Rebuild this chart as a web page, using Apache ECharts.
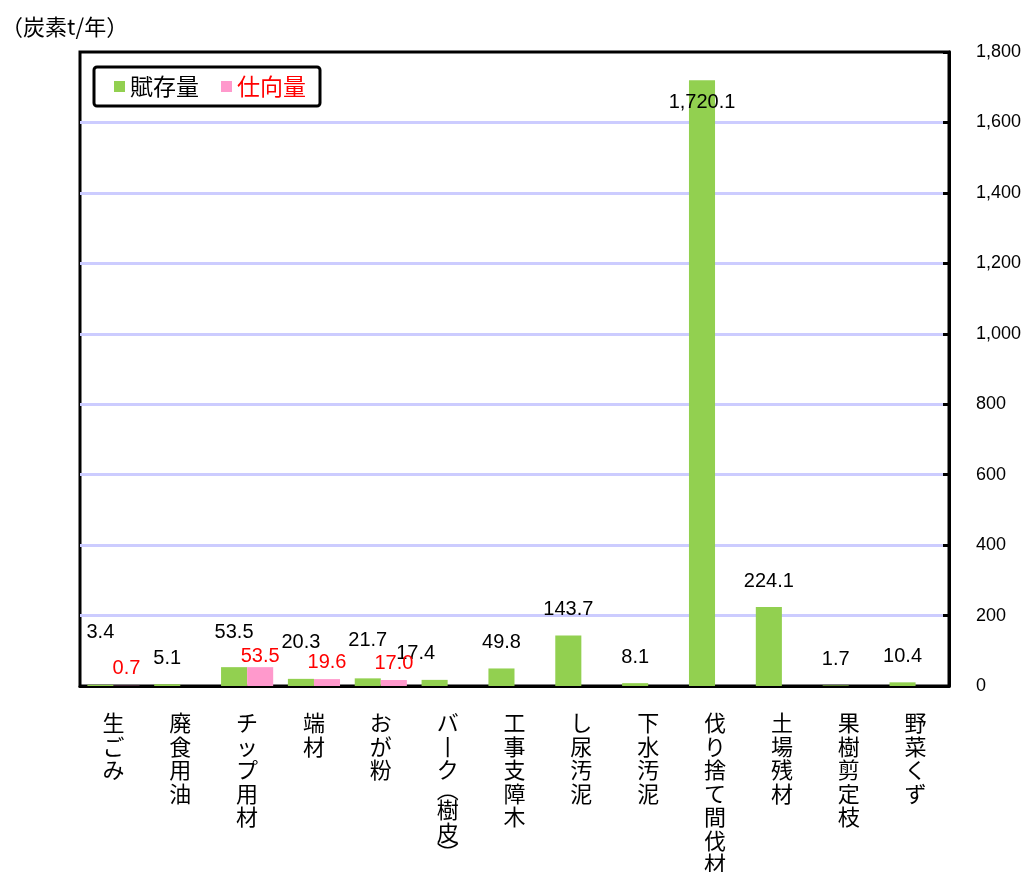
<!DOCTYPE html>
<html>
<head>
<meta charset="utf-8">
<script src="https://cdn.jsdelivr.net/npm/echarts@6/dist/echarts.min.js"></script>
<style>
  html, body { margin: 0; padding: 0; background: #fff; }
  #chart { width: 1028px; height: 872px; }
</style>
</head>
<body>
<div id="chart"></div>
<script>
// categories and values
const categories = ['生ごみ', '廃食用油', 'チップ用材', '端材', 'おが粉', 'バーク（樹皮）', '工事支障木',
  'し尿汚泥', '下水汚泥', '伐り捨て間伐材', '土場残材', '果樹剪定枝', '野菜くず'];
const fuzon = [3.4, 5.1, 53.5, 20.3, 21.7, 17.4, 49.8, 143.7, 8.1, 1720.1, 224.1, 1.7, 10.4];
const shiko = [0.7, null, 53.5, 19.6, 17.0, null, null, null, null, null, null, null, null];
const yTicks = [0, 200, 400, 600, 800, 1000, 1200, 1400, 1600, 1800];

const NUM_FONT = '"Liberation Sans", Arial, sans-serif';
const JP_FONT = '"Noto Sans CJK JP", sans-serif';

const fmt = v => v.toLocaleString('en-US', { minimumFractionDigits: 1, maximumFractionDigits: 1 });

// label nudges so the stacked numbers don't collide (as in the original)
const greenLabelTweak = {
  0: { distance: 42 },
  2: { distance: 25 },
  3: { distance: 26 },
  4: { distance: 28 },
  5: { offset: [-19, 0] },
  9: { position: 'insideTop', distance: 12 },
};
const pinkLabelTweak = {
  2: { distance: 1 },
};

// vertical text: one char per line, rotate the long-vowel mark and parens
function verticalName(name) {
  return name.split('').map(c => {
    if (c === 'ー') return '丨';
    if (c === '（') return '{p|︵}';
    if (c === '）') return '{p|︶}';
    return c;
  }).join('\n');
}

const chart = echarts.init(document.getElementById('chart'), null, { renderer: 'canvas' });

chart.setOption({
  backgroundColor: '#fff',
  animation: false,
  title: {
    text: '（炭素t/年）',
    left: -4,
    top: 11,
    textStyle: { fontFamily: JP_FONT, fontSize: 22, fontWeight: 'normal', color: '#000' },
  },
  legend: {
    left: 94,
    top: 67,
    padding: [8, 14, 8, 20],
    itemGap: 22,
    itemWidth: 11,
    itemHeight: 11,
    icon: 'rect',
    borderColor: '#000',
    borderWidth: 3,
    borderRadius: 3,
    backgroundColor: '#fff',
    textStyle: { fontFamily: JP_FONT, fontSize: 23 },
    data: [
      { name: '賦存量', textStyle: { color: '#000' } },
      { name: '仕向量', textStyle: { color: '#ff0000' } },
    ],
  },
  grid: {
    left: 80, right: 79, top: 52, bottom: 186,
    containLabel: false,
    outerBoundsMode: 'none',
    show: true, borderColor: '#000', borderWidth: 3, backgroundColor: '#fff',
  },
  xAxis: {
    type: 'category',
    data: categories,
    axisLine: { lineStyle: { color: '#000', width: 3 } },
    axisTick: { inside: true, length: 5, lineStyle: { color: '#000', width: 3 } },
    axisLabel: {
      interval: 0,
      margin: 25,
      color: '#000',
      fontFamily: JP_FONT,
      fontSize: 22,
      lineHeight: 23.5,
      verticalAlign: 'top',
      formatter: verticalName,
      rich: { p: { fontFamily: JP_FONT, fontSize: 22, lineHeight: 16, color: '#000' } },
    },
  },
  yAxis: {
    type: 'value',
    position: 'right',
    min: yTicks[0],
    max: yTicks[yTicks.length - 1],
    interval: 200,
    axisLine: { show: true, lineStyle: { color: '#000', width: 3 } },
    axisTick: { show: true, inside: true, length: 6, lineStyle: { color: '#000', width: 3 } },
    axisLabel: {
      margin: 27,
      color: '#000',
      fontFamily: NUM_FONT,
      fontSize: 18,
      formatter: v => v.toLocaleString('en-US'),
    },
    splitLine: { showMaxLine: false, showMinLine: false, lineStyle: { color: '#ccccff', width: 3 } },
  },
  series: [
    {
      name: '賦存量',
      type: 'bar',
      barGap: '0%',
      barCategoryGap: '22%',
      itemStyle: { color: '#92d050' },
      label: {
        show: true, position: 'top', distance: 16,
        color: '#000', fontFamily: NUM_FONT, fontSize: 20,
        formatter: p => fmt(p.value),
      },
      data: fuzon.map((v, i) => greenLabelTweak[i] ? { value: v, label: greenLabelTweak[i] } : v),
    },
    {
      name: '仕向量',
      type: 'bar',
      barGap: '0%',
      barCategoryGap: '22%',
      itemStyle: { color: '#ff99cc' },
      label: {
        show: true, position: 'top', distance: 7,
        color: '#ff0000', fontFamily: NUM_FONT, fontSize: 20,
        formatter: p => (p.value == null ? '' : fmt(p.value)),
      },
      data: shiko.map((v, i) => pinkLabelTweak[i] ? { value: v, label: pinkLabelTweak[i] } : v),
    },
  ],
});
</script>
</body>
</html>
